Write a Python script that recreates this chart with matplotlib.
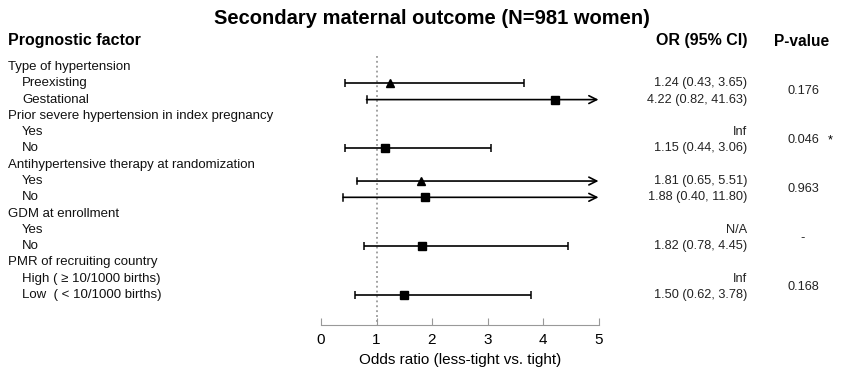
import matplotlib.pyplot as plt
import matplotlib.transforms as mtransforms
import numpy as np

plt.rcParams['font.family'] = ['Liberation Sans', 'DejaVu Sans']

# rows, top to bottom
row_labels = ['Type of hypertension', 'Preexisting', 'Gestational',
              'Prior severe hypertension in index pregnancy', 'Yes', 'No',
              'Antihypertensive therapy at randomization', 'Yes', 'No',
              'GDM at enrollment', 'Yes', 'No',
              'PMR of recruiting country', 'High ( \u2265 10/1000 births)', 'Low  ( < 10/1000 births)']
is_header = [True, False, False, True, False, False, True, False, False,
             True, False, False, True, False, False]
odds = [None, 1.24, 4.22, None, None, 1.15, None, 1.81, 1.88, None, None, 1.82, None, None, 1.50]
lower = [None, 0.43, 0.82, None, None, 0.44, None, 0.65, 0.40, None, None, 0.78, None, None, 0.62]
upper = [None, 3.65, 41.63, None, None, 3.06, None, 5.51, 11.80, None, None, 4.45, None, None, 3.78]
markers = [None, '^', 's', None, None, 's', None, '^', 's', None, None, 's', None, None, 's']
ci_text = ['', '1.24 (0.43, 3.65)', '4.22 (0.82, 41.63)', '', 'Inf', '1.15 (0.44, 3.06)',
           '', '1.81 (0.65, 5.51)', '1.88 (0.40, 11.80)', '', 'N/A', '1.82 (0.78, 4.45)',
           '', 'Inf', '1.50 (0.62, 3.78)']
p_values = ['0.176', '0.046', '0.963', '-', '0.168']
p_flags = ['', '*', '', '', '']

xmax = 5

fig = plt.figure(figsize=(8.6, 3.71), dpi=100)
ax = fig.add_axes([321 / 860, 1 - 325 / 371, 277.5 / 860, (325 - 40) / 371])
ax.set_xlim(0, xmax)
ax.set_ylim(15.84, -1.66)

ax.plot([1, 1], [-0.7, 15.84], ls=(0, (1.2, 2)), color='#888888', lw=1.1, zorder=1)

for i in range(len(row_labels)):
    if odds[i] is None:
        continue
    hi = upper[i]
    if hi > xmax:
        ax.annotate('', xy=(xmax, i), xytext=(lower[i], i),
                    arrowprops=dict(arrowstyle='->', color='black', lw=1.2,
                                    shrinkA=0, shrinkB=0, mutation_scale=14))
        ax.plot([lower[i]] * 2, [i - 0.2, i + 0.2], color='black', lw=1.1)
    else:
        ax.errorbar(odds[i], i, xerr=[[odds[i] - lower[i]], [hi - odds[i]]],
                    fmt='none', ecolor='black', elinewidth=1.2, capsize=2.8, capthick=1.1)
    ms = 6.2 if markers[i] == '^' else 5.6
    ax.plot(odds[i], i, marker=markers[i], color='black', ms=ms, ls='none', zorder=3)

for side in ['top', 'right', 'left']:
    ax.spines[side].set_visible(False)
ax.spines['bottom'].set_color('#999999')
ax.spines['bottom'].set_bounds(0, 5)
ax.set_yticks([])
ax.set_xticks(np.arange(0, 6))
ax.tick_params(axis='x', direction='in', length=5, color='#999999', labelsize=11, pad=6)
ax.set_xlabel('Odds ratio (less-tight vs. tight)', fontsize=11, labelpad=4)

trans = mtransforms.blended_transform_factory(fig.transFigure, ax.transData)
for i, lab in enumerate(row_labels):
    x = 8 / 860 if is_header[i] else 22 / 860
    fig.text(x, i, lab, transform=trans, fontsize=9.5, va='center', ha='left', color='#111111')
    if ci_text[i]:
        fig.text(747 / 860, i, ci_text[i], transform=trans, fontsize=9.2, va='center', ha='right',
                 color='#222222')

group_starts = [i for i in range(len(row_labels)) if is_header[i]]
for k, g in enumerate(group_starts):
    y = g + 1.5
    fig.text(803 / 860, y, p_values[k], transform=trans, fontsize=9.2, va='center', ha='center',
             color='#222222')
    if p_flags[k]:
        fig.text(830 / 860, y, p_flags[k], transform=trans, fontsize=9.2, va='center', ha='center')

fig.text(8 / 860, 1 - 41 / 371, 'Prognostic factor', fontsize=11.5, fontweight='bold', va='center')
fig.text(747 / 860, 1 - 41 / 371, 'OR (95% CI)', fontsize=11.5, fontweight='bold', va='center', ha='right')
fig.text(802 / 860, 1 - 41 / 371, 'P-value', fontsize=11.2, fontweight='bold', va='center', ha='center')
fig.text(432 / 860, 1 - 18 / 371, 'Secondary maternal outcome (N=981 women)', fontsize=14.5,
         fontweight='bold', va='center', ha='center')

fig.savefig('out.png', dpi=100)
